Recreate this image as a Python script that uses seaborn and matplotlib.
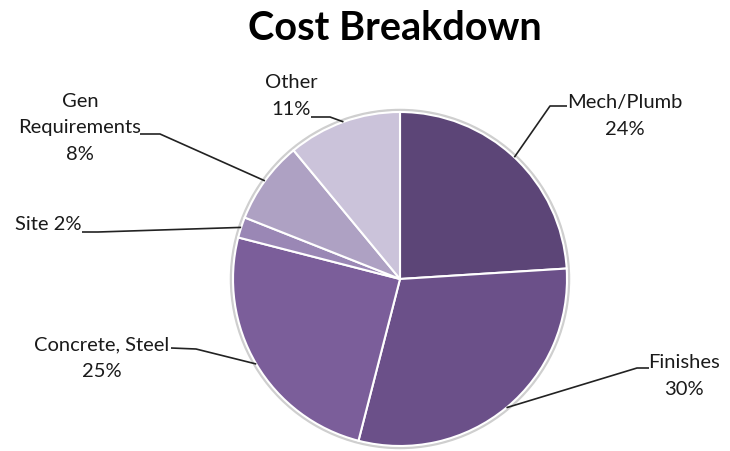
import numpy as np
import matplotlib
matplotlib.use("Agg")
import matplotlib.pyplot as plt
import seaborn as sns

categories = ["Mech/Plumb", "Finishes", "Concrete, Steel", "Site", "Gen Requirements", "Other"]
values = [24, 30, 25, 2, 8, 11]
label_texts = ["Mech/Plumb\n24%", "Finishes\n30%", "Concrete, Steel\n25%", "Site 2%", "Gen\nRequirements\n8%", "Other\n11%"]
colors = ["#5C4577", "#6B5089", "#7B5E9A", "#9A87B5", "#AEA1C3", "#CBC3DA"]

sns.set_theme(style="white")
plt.rcParams["font.family"] = ["Lato", "DejaVu Sans"]

W, H = 730, 452
fig = plt.figure(figsize=(W / 100, H / 100), dpi=100)
ax = fig.add_axes([0, 0, 1, 1])

cx, cy_px, R = 400, 280, 167
def py(y):
    return H - y

# faint shadow ring
ax.add_patch(plt.Circle((cx, py(cy_px)), R + 1.5, facecolor="none", edgecolor="#cfcfcf", lw=2.5, zorder=0))

wedges, _ = ax.pie(values, colors=colors, startangle=90, counterclock=False,
                   center=(cx, py(cy_px)), radius=R,
                   wedgeprops=dict(edgecolor="white", linewidth=1.5))
ax.set_xlim(0, W)
ax.set_ylim(0, H)
ax.set_aspect("equal")
ax.axis("off")

# label anchor positions (pixel coords): text center, and leader elbow points
text_pos = [(625, 116), (684, 376), (102, 358), (48, 225), (80, 128), (291, 96)]
elbows = [[(567, 107), (550, 107)],
          [(649, 369), (637, 369)],
          [(171, 349), (196, 350)],
          [(82, 233), (98, 233)],
          [(140, 135), (160, 135)],
          [(311, 118), (330, 118)]]

total = sum(values)
start = 90.0
for i, v in enumerate(values):
    sweep = 360.0 * v / total
    mid = np.deg2rad(start - sweep / 2)
    start -= sweep
    ex = cx + R * np.cos(mid)
    ey = py(cy_px) + R * np.sin(mid)
    pts = [(x, py(y)) for x, y in elbows[i]] + [(ex, ey)]
    xs, ys = zip(*pts)
    ax.plot(xs, ys, color="#222222", lw=1.2, zorder=5, solid_capstyle="butt")
    tx, ty = text_pos[i]
    ax.text(tx, py(ty), label_texts[i], ha="center", va="center", fontsize=14.5,
            color="#1a1a1a", linespacing=1.7)

ax.text(395, py(28), "Cost Breakdown", ha="center", va="center", fontsize=28.5,
        fontweight="bold", color="black")

fig.savefig("out.png", dpi=100)
